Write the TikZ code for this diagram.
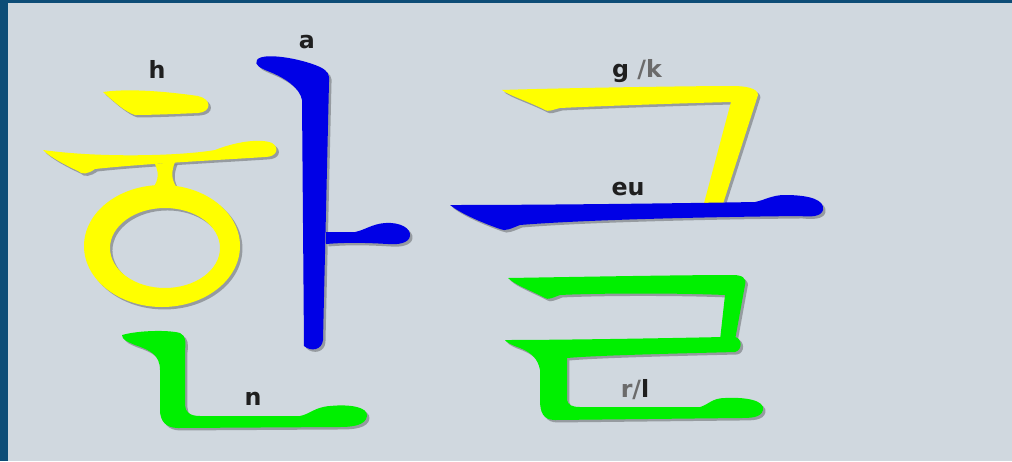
\documentclass[tikz,border=0pt]{standalone}
\usepackage{fontspec}
\setmainfont{DejaVu Sans}
\usetikzlibrary{shadows}
\definecolor{framebg}{HTML}{D0D8DF}
\definecolor{frameblue}{HTML}{0D4D77}
\definecolor{jamoyellow}{HTML}{FFFF00}
\definecolor{jamoblue}{HTML}{0000E6}
\definecolor{jamogreen}{HTML}{00F000}
\definecolor{softgray}{HTML}{6B6B6B}
\begin{document}
\begin{tikzpicture}[x=0.02cm, y=-0.02cm,
    jamo/.style={drop shadow={shadow xshift=1.4pt, shadow yshift=-1.4pt, opacity=0.28, fill=black}},
    ringjamo/.style={drop shadow={shadow xshift=1.4pt, shadow yshift=-1.4pt, opacity=0.28, fill=black, even odd rule},
      even odd rule, fill=jamoyellow},
    yellowjamo/.style={jamo, fill=jamoyellow},
    bluejamo/.style={jamo, fill=jamoblue},
    greenjamo/.style={jamo, fill=jamogreen},
    lbl/.style={font=\fontsize{13.5}{16}\selectfont\bfseries, anchor=base, inner sep=0pt, text=black!88}]
  \useasboundingbox (0,0) rectangle (1012,461);
  \fill [framebg] (0,0) rectangle (1012,461);
  \fill [frameblue] (0,0) rectangle (8,461);
  \fill [frameblue] (0,0) rectangle (1012,3);
  % h: dash, bar, neck, ring
  \fill [yellowjamo] (103,92) .. controls (130,88) and (170,92) .. (198,96)
    .. controls (212,99) and (212,112) .. (198,113) .. controls (175,114) and (150,115) .. (135,115)
    .. controls (125,112) and (112,100) .. (103,92) -- cycle;
  \fill [yellowjamo] (43,150) .. controls (100,158) and (180,156) .. (215,150)
    .. controls (235,142) and (260,138) .. (272,143) .. controls (280,148) and (277,157) .. (265,157)
    .. controls (220,160) and (140,164) .. (95,169) .. controls (88,174) and (82,175) .. (78,171)
    .. controls (65,165) and (50,157) .. (43,150) -- cycle;
  \fill [yellowjamo] (155,164) .. controls (160,175) and (158,182) .. (150,192) -- (180,192)
    .. controls (172,182) and (170,175) .. (175,162) -- cycle;
  \fill [ringjamo] (162,246) ellipse (78 and 61) (165,248) ellipse (55 and 40);
  % a
  \fill [bluejamo] (257,60) .. controls (262,52) and (300,58) .. (320,67)
    .. controls (328,71) and (330,75) .. (329,82) -- (323,340)
    .. controls (322,350) and (311,352) .. (304,346) -- (302,100)
    .. controls (300,88) and (285,78) .. (270,72) .. controls (260,68) and (254,65) .. (257,60) -- cycle;
  \fill [bluejamo] (326,232) -- (355,232) .. controls (365,230) and (372,224) .. (385,223)
    .. controls (400,222) and (411,228) .. (410,236) .. controls (409,243) and (398,245) .. (388,244)
    .. controls (370,243) and (350,242) .. (326,244) -- cycle;
  % n
  \fill [greenjamo] (122,335) .. controls (140,330) and (170,330) .. (180,333)
    .. controls (186,336) and (186,342) .. (185,350) -- (185,405)
    .. controls (185,412) and (190,416) .. (200,416) -- (300,416)
    .. controls (310,414) and (315,407) .. (330,406) .. controls (350,404) and (368,407) .. (367,416)
    .. controls (366,426) and (350,427) .. (340,427) -- (178,428)
    .. controls (165,428) and (160,420) .. (160,410) -- (160,370)
    .. controls (160,355) and (150,350) .. (135,345) .. controls (128,342) and (122,340) .. (122,335) -- cycle;
  % g
  \fill [yellowjamo] (502,90) .. controls (560,88) and (690,86) .. (733,86)
    .. controls (745,86) and (758,88) .. (758,95) -- (722,207) -- (703,207) -- (731,102)
    .. controls (690,103) and (600,106) .. (560,108) .. controls (552,110) and (548,112) .. (545,110)
    .. controls (530,102) and (510,96) .. (502,90) -- cycle;
  % eu
  \fill [bluejamo] (450,205) .. controls (550,205) and (700,203) .. (755,202)
    .. controls (765,200) and (772,195) .. (785,195) .. controls (810,195) and (825,200) .. (823,210)
    .. controls (821,217) and (810,217) .. (800,216) .. controls (700,217) and (580,220) .. (520,225)
    .. controls (512,228) and (505,232) .. (500,229) .. controls (480,222) and (460,213) .. (450,205) -- cycle;
  % r/l
  \fill [greenjamo] (508,278) .. controls (570,277) and (680,275) .. (733,275)
    .. controls (742,275) and (747,278) .. (745,285) -- (735,340) -- (720,340) -- (725,295)
    .. controls (680,293) and (600,293) .. (560,295) .. controls (552,298) and (548,300) .. (545,298)
    .. controls (530,290) and (515,285) .. (508,278) -- cycle;
  \fill [greenjamo] (505,340) .. controls (560,340) and (680,338) .. (722,337) -- (735,337)
    .. controls (742,338) and (743,350) .. (735,352) .. controls (700,353) and (600,355) .. (567,358)
    -- (567,400) .. controls (568,405) and (572,407) .. (580,407) -- (700,407)
    .. controls (708,405) and (712,398) .. (725,398) .. controls (745,397) and (765,400) .. (763,410)
    .. controls (761,418) and (750,418) .. (740,418) -- (555,420)
    .. controls (543,420) and (540,412) .. (540,400) -- (540,370)
    .. controls (538,358) and (530,352) .. (520,348) .. controls (512,345) and (507,343) .. (505,340) -- cycle;
  % labels
  \node [lbl] (lblh) at (157,78) {h};
  \node [lbl] (lbla) at (307,48) {a};
  \node [lbl] (lbln) at (253,405) {n};
  \node [lbl] (lblg) at (637,77) {g {\color{softgray}/k}};
  \node [lbl] (lbleu) at (628,195) {eu};
  \node [lbl] (lblrl) at (635,397) {{\color{softgray}r/}l};
\end{tikzpicture}
\end{document}
